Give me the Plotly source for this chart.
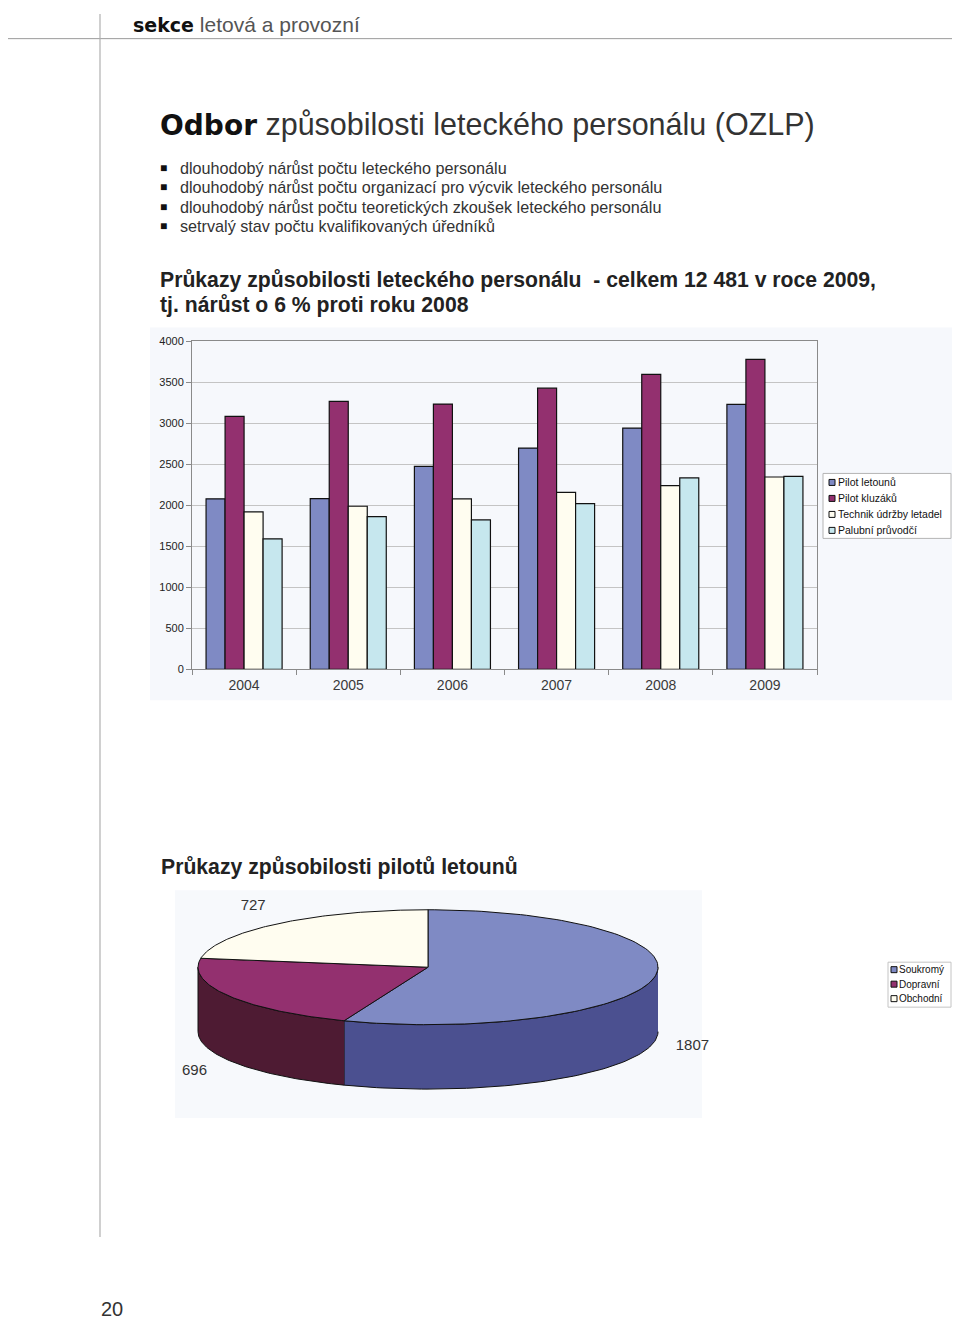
import numpy as np
import plotly.graph_objects as go

# page is 960x1332; the browser body keeps an 8px margin, so the figure is 944x1316
PAGE_W, PAGE_H, OFF = 960, 1332, 8
W, H = PAGE_W - 2 * OFF, PAGE_H - 2 * OFF
# measured vertical mapping of the captured page: shown_y = SY * page_y + DY
SY, DY = 0.9914, 5.4

# ---------------- data ----------------
years = ["2004", "2005", "2006", "2007", "2008", "2009"]
pilot_letounu = [2080, 2083, 2477, 2700, 2944, 3232]
pilot_kluzaku = [3086, 3269, 3236, 3431, 3598, 3781]
technik_udrzby = [1921, 1990, 2079, 2160, 2241, 2347]
palubni_pruvodci = [1592, 1864, 1823, 2022, 2335, 2355]
bar_series = ["Pilot letounů", "Pilot kluzáků", "Technik údržby letadel", "Palubní průvodčí"]

pie_labels = ["Soukromý", "Dopravní", "Obchodní"]
pie_values = [1807, 696, 727]

bullets = [
    "dlouhodobý nárůst počtu leteckého personálu",
    "dlouhodobý nárůst počtu organizací pro výcvik leteckého personálu",
    "dlouhodobý nárůst počtu teoretických zkoušek leteckého personálu",
    "setrvalý stav počtu kvalifikovaných úředníků",
]

# ---------------- styles ----------------
bar_colors = ["#7f8ac4", "#93306f", "#fffdf0", "#c6e7ee"]
pie_top_colors = ["#7f8ac4", "#93306f", "#fffdf0"]
pie_side_colors = ["#4b5090", "#4e1b33", "#b8b6a4"]
FONT = "Liberation Sans, Arial, Helvetica, sans-serif"


def px(x):
    return (x - OFF) / W


def fy(y):
    """target shown y -> figure pixel y"""
    return (y - DY) / SY - OFF


def py(y):
    return 1 - fy(y) / H


fig = go.Figure()

# ---------------- bar chart ----------------
for name, vals, col in zip(bar_series,
                           [pilot_letounu, pilot_kluzaku, technik_udrzby, palubni_pruvodci],
                           bar_colors):
    fig.add_trace(go.Bar(
        x=years, y=vals, name=name,
        marker=dict(color=col, line=dict(color="#111111", width=1.2)),
        xaxis="x", yaxis="y", showlegend=False,
        hoverinfo="x+y+name",
    ))

# ---------------- 3D pie (computed from values) ----------------
cx, cy, rx, ry, depth = 428, 970, 230, 58, 65
total = float(sum(pie_values))
cum = np.concatenate([[0], np.cumsum(pie_values)]) / total
angles = 90 - 360 * cum  # clockwise from top

for i in range(len(pie_values)):
    a0, a1 = angles[i], angles[i + 1]
    lo, hi = max(a1, -180), min(a0, 0)
    if lo < hi:
        t = np.radians(np.linspace(hi, lo, 80))
        xs_top = cx + rx * np.cos(t)
        ys_top = cy - ry * np.sin(t)
        xs = np.concatenate([xs_top, xs_top[::-1]])
        ys = np.concatenate([ys_top, ys_top[::-1] + depth])
        fig.add_trace(go.Scatter(
            x=xs, y=ys, mode="lines", fill="toself",
            fillcolor=pie_side_colors[i], line=dict(color="#111111", width=1),
            xaxis="x2", yaxis="y2", showlegend=False, hoverinfo="skip",
        ))

for i in range(len(pie_values)):
    a0, a1 = angles[i], angles[i + 1]
    t = np.radians(np.linspace(a0, a1, 120))
    xs = np.concatenate([[cx], cx + rx * np.cos(t), [cx]])
    ys = np.concatenate([[cy], cy - ry * np.sin(t), [cy]])
    fig.add_trace(go.Scatter(
        x=xs, y=ys, mode="lines", fill="toself",
        fillcolor=pie_top_colors[i], line=dict(color="#111111", width=1),
        xaxis="x2", yaxis="y2", showlegend=False,
        name=pie_labels[i], text=f"{pie_labels[i]}: {pie_values[i]}", hoverinfo="text",
    ))

mid = np.radians((angles[:-1] + angles[1:]) / 2)
lx = cx + rx * 1.17 * np.cos(mid)
ly = cy - ry * 1.4 * np.sin(mid) + np.where(np.sin(mid) < 0, depth, 0)
fig.add_trace(go.Scatter(
    x=lx, y=ly, mode="text", text=[str(v) for v in pie_values],
    textfont=dict(family=FONT, size=15, color="#333333"),
    xaxis="x2", yaxis="y2", showlegend=False, hoverinfo="skip", cliponaxis=False,
))

# ---------------- page decoration ----------------
shapes = [
    dict(type="line", xref="paper", yref="paper", x0=px(0), x1=px(960), y0=py(38), y1=py(38),
         line=dict(color="#9a9a9a", width=1)),
    dict(type="line", xref="paper", yref="paper", x0=px(100), x1=px(100), y0=1, y1=py(1237),
         line=dict(color="#b0b0b0", width=1.2)),
    dict(type="rect", xref="paper", yref="paper", x0=px(150), x1=px(957), y0=py(700), y1=py(327),
         fillcolor="#f6f8fc", line=dict(width=0), layer="below"),
    dict(type="rect", xref="paper", yref="paper", x0=px(175), x1=px(702), y0=py(1118), y1=py(890),
         fillcolor="#f7f9fc", line=dict(width=0), layer="below"),
]

ann = []


def text(x, y, s, size, color="#222222", family=FONT, xanchor="left", yfig=None):
    yy = py(y) if yfig is None else 1 - yfig / H
    ann.append(dict(x=px(x), y=yy, xref="paper", yref="paper", text=s, showarrow=False,
                    xanchor=xanchor, yanchor="middle",
                    font=dict(family=family, size=size, color=color)))


def legend_box(x0, y0, x1, y1, labels, colors, first_y, step, icon_x, text_x, size, border):
    shapes.append(dict(type="rect", xref="paper", yref="paper", x0=px(x0), x1=px(x1),
                       y0=py(y1), y1=py(y0), fillcolor="white",
                       line=dict(color=border, width=1)))
    for j, (lab, col) in enumerate(zip(labels, colors)):
        yy = first_y + j * step
        shapes.append(dict(type="rect", xref="paper", yref="paper",
                           x0=px(icon_x), x1=px(icon_x + 6), y0=py(yy + 3), y1=py(yy - 3),
                           fillcolor=col, line=dict(color="#111111", width=1)))
        text(text_x, yy, lab, size, "#111111")


legend_box(823, 473, 951, 538, bar_series, bar_colors, 482, 16, 829, 836, 10.5, "#b4b4b4")
legend_box(888, 962, 951, 1007, pie_labels, pie_top_colors, 969.5, 14.5, 891, 897, 10, "#c4c4c4")

# header sits as high as the page allows
ann.append(dict(x=px(131), y=1 - 10.5 / H, xref="paper", yref="paper", showarrow=False,
                xanchor="left", yanchor="middle",
                text='<span style="font-family:DejaVu Sans;font-size:19px"><b>sekce</b></span>'
                     ' <span style="color:#555555">letová a provozní</span>',
                font=dict(family=FONT, size=21, color="#111111")))
ann.append(dict(x=px(158), y=py(124), xref="paper", yref="paper", showarrow=False,
                xanchor="left", yanchor="middle",
                text='<span style="font-family:DejaVu Sans;font-size:28px"><b>Odbor</b></span>'
                     ' <span style="color:#333333">způsobilosti leteckého personálu (OZLP)</span>',
                font=dict(family=FONT, size=30.5, color="#111111")))
for j, b in enumerate(bullets):
    yy = 167 + j * 19.6
    text(158, yy, "■", 12, "#111111")
    text(178, yy, b, 16.2, "#333333")
text(158, 279, "<b>Průkazy způsobilosti leteckého personálu  - celkem 12 481 v roce 2009,</b>",
     21.2, "#222222")
text(158, 304, "<b>tj. nárůst o 6 % proti roku 2008</b>", 21.2, "#222222")
text(159, 867, "<b>Průkazy způsobilosti pilotů letounů</b>", 21.2, "#222222")
# page number as low as the page allows
text(99, 0, "20", 20, "#333333", yfig=H - 9)

fig.update_layout(
    width=W, height=H,
    margin=dict(l=0, r=0, t=0, b=0),
    paper_bgcolor="white", plot_bgcolor="rgba(0,0,0,0)",
    barmode="group", bargap=0.27, bargroupgap=0.0,
    shapes=shapes, annotations=ann,
    xaxis=dict(domain=[px(192), px(817)], type="category",
               showline=True, linecolor="#8a8a8a", linewidth=1, mirror=True,
               ticks="outside", tickson="boundaries", ticklen=5, tickcolor="#8a8a8a",
               ticklabelstandoff=3,
               tickfont=dict(family=FONT, size=14, color="#3a3a3a"), showgrid=False),
    yaxis=dict(domain=[py(669), py(341)], range=[0, 4000], dtick=500,
               showline=True, linecolor="#8a8a8a", linewidth=1, mirror=True,
               ticks="outside", ticklen=5, tickcolor="#8a8a8a",
               gridcolor="#c4c4c4", gridwidth=1, zeroline=False,
               tickfont=dict(family=FONT, size=11, color="#222222")),
    xaxis2=dict(domain=[px(175), px(702)], range=[175, 702], visible=False, anchor="y2"),
    yaxis2=dict(domain=[py(1118), py(890)], range=[fy(1118) + OFF, fy(890) + OFF],
                visible=False, anchor="x2"),
    showlegend=False,
)

fig.write_html("out.html")
